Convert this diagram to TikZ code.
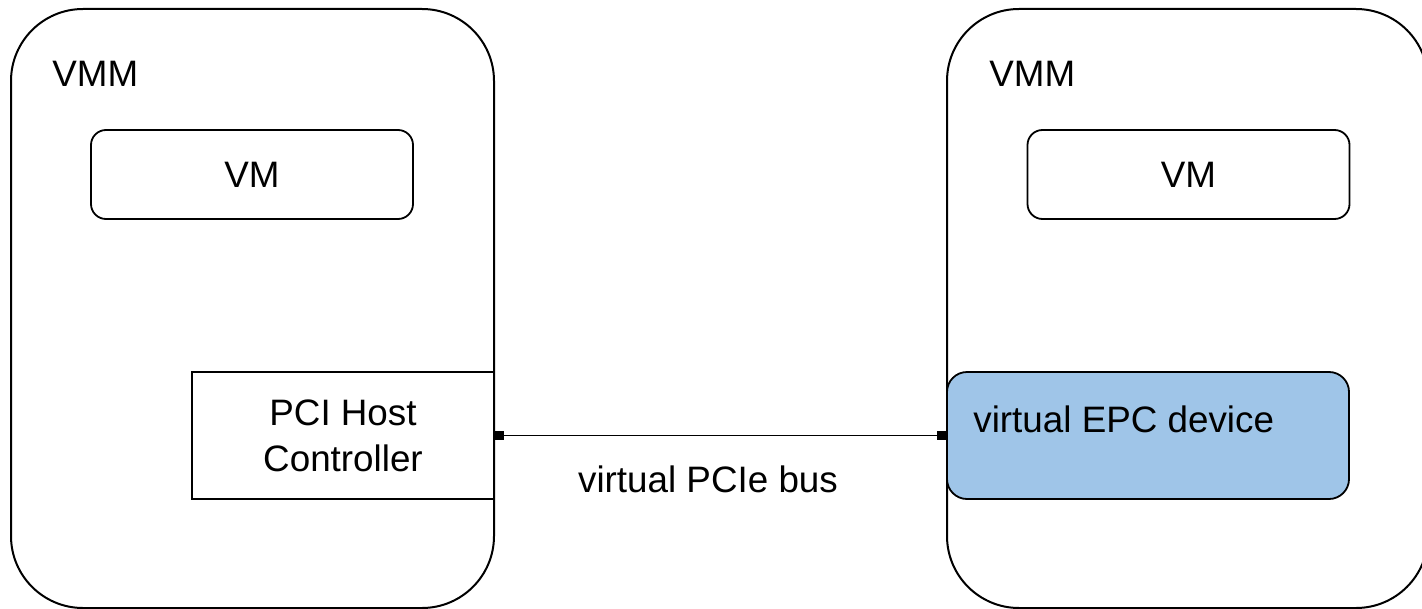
\documentclass[tikz,border=0pt]{standalone}
\usepackage{fontspec}
\setmainfont{Liberation Sans}
\usetikzlibrary{arrows.meta}
\definecolor{epcblue}{HTML}{9FC5E8}
\begin{document}
\begin{tikzpicture}[x=0.5pt,y=-0.5pt,
  font=\fontsize{18.4}{23}\selectfont,
  vmmbox/.style={draw, line width=1pt, rounded corners=36pt, inner sep=0pt},
  vmbox/.style={draw, line width=0.9pt, rounded corners=7.5pt, inner sep=0pt,
    minimum width=161pt, minimum height=44.5pt},
  hostbox/.style={draw, line width=0.9pt, inner sep=0pt, align=center,
    minimum width=151pt, minimum height=63.5pt},
  epcbox/.style={draw, line width=0.9pt, fill=epcblue, rounded corners=10pt,
    inner sep=0pt, minimum width=201pt, minimum height=63.5pt},
  bus/.style={line width=0.9pt, {Square[length=4.5pt,width=4.5pt]}-{Square[length=4.5pt,width=4.5pt]}},
  plain/.style={inner sep=0pt}]
\path[use as bounding box] (0,0) rectangle (1422,609);
\begin{scope}
\clip (0,0) rectangle (1422,609);

% hypervisor containers (the right one runs past the page edge)
\node[vmmbox, minimum width=241.5pt, minimum height=299.5pt] (vmmL) at (252.5,308.5) {};
\node[vmmbox, minimum width=240.5pt, minimum height=299.5pt] (vmmR) at (1187.5,308.5) {};
\end{scope}
\node[plain, anchor=base west] (vmmLtext) at (52,87) {VMM};
\node[plain, anchor=base west] (vmmRtext) at (989,87) {VMM};

% guest machines
\node[vmbox] (vmL) at (252,174.5) {VM};
\node[vmbox] (vmR) at (1188.5,174.5) {VM};

% devices
\node[hostbox] (pci) at (343,435.5) {PCI Host\\Controller};
\node[epcbox] (epc) at (1148,435.5) {};
\node[plain, anchor=base west] (epctext) at (973,432) {virtual EPC device};

% bus between them
\draw[bus] (pci.east) -- (epc.west);
\node[plain, anchor=base] (busl) at (708,492) {virtual PCIe bus};
\end{tikzpicture}
\end{document}
